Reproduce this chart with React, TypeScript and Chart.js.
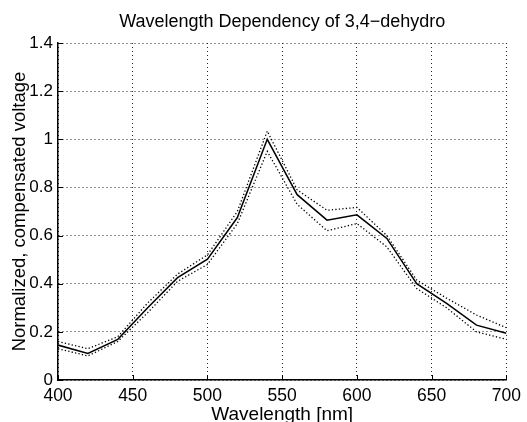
import React, { useEffect, useRef } from "react";
import { Chart, registerables } from "chart.js";

Chart.register(...registerables);

const wavelengths = [400, 420, 440, 460, 480, 500, 520, 540, 560, 580, 600, 620, 640, 660, 680, 700];
const meanVals = [0.145, 0.11, 0.169, 0.3, 0.425, 0.502, 0.675, 1.0, 0.77, 0.664, 0.686, 0.588, 0.4, 0.318, 0.228, 0.194];
const upperVals = [0.16, 0.13, 0.18, 0.32, 0.44, 0.52, 0.7, 1.034, 0.79, 0.705, 0.717, 0.6, 0.415, 0.34, 0.27, 0.217];
const lowerVals = [0.13, 0.1, 0.16, 0.28, 0.41, 0.48, 0.65, 0.95, 0.73, 0.62, 0.65, 0.553, 0.38, 0.3, 0.2, 0.169];

const titleText = "Wavelength Dependency of 3,4\u2212dehydro";
const xTitle = "Wavelength [nm]";
const yTitle = "Normalized, compensated voltage";

const FONT = "'Liberation Sans', Arial, Helvetica, sans-serif";

const toPoints = (ys: number[]) => wavelengths.map((x, i) => ({ x, y: ys[i] }));

const inwardTicks = {
  id: "inwardTicks",
  afterDraw(chart: any) {
    const { ctx, chartArea, scales } = chart;
    ctx.save();
    ctx.strokeStyle = "#000";
    ctx.lineWidth = 1;
    ctx.beginPath();
    scales.x.ticks.forEach((t: any) => {
      const px = Math.round(scales.x.getPixelForValue(t.value)) + 0.5;
      ctx.moveTo(px, chartArea.bottom);
      ctx.lineTo(px, chartArea.bottom - 5);
    });
    scales.y.ticks.forEach((t: any) => {
      const py = Math.round(scales.y.getPixelForValue(t.value)) + 0.5;
      ctx.moveTo(chartArea.left, py);
      ctx.lineTo(chartArea.left + 5, py);
    });
    ctx.stroke();
    ctx.restore();
  },
};

export default function App() {
  const ref = useRef<HTMLCanvasElement | null>(null);

  useEffect(() => {
    document.body.style.margin = "0";
    document.body.style.background = "#fff";
    if (!ref.current) return;
    const chart = new Chart(ref.current, {
      type: "line",
      data: {
        datasets: [
          {
            label: "upper",
            data: toPoints(upperVals),
            borderColor: "#000",
            borderWidth: 1.3,
            borderDash: [1.3, 2.2],
            pointRadius: 0,
            fill: false,
            tension: 0,
          },
          {
            label: "mean",
            data: toPoints(meanVals),
            borderColor: "#000",
            borderWidth: 1.5,
            pointRadius: 0,
            fill: false,
            tension: 0,
          },
          {
            label: "lower",
            data: toPoints(lowerVals),
            borderColor: "#000",
            borderWidth: 1.3,
            borderDash: [1.3, 2.2],
            pointRadius: 0,
            fill: false,
            tension: 0,
          },
        ],
      },
      options: {
        animation: false,
        responsive: false,
        devicePixelRatio: 1,
        layout: { padding: { left: 0, right: 18, top: 0, bottom: 0 } },
        plugins: {
          legend: { display: false },
          tooltip: { enabled: false },
          title: {
            display: true,
            text: titleText,
            fullSize: false,
            color: "#000",
            font: { family: FONT, size: 18, weight: "normal" },
            padding: { top: 11, bottom: 10.4 },
          },
        },
        scales: {
          x: {
            type: "linear",
            min: 400,
            max: 700,
            ticks: {
              stepSize: 50,
              color: "#000",
              font: { family: FONT, size: 17.5 },
              padding: 6,
              maxRotation: 0,
            },
            grid: {
              color: "rgba(0,0,0,0.85)",
              lineWidth: 1,
              drawTicks: false,
            },
            border: { display: true, color: "#000", width: 1.5, dash: [1, 3] },
            title: {
              display: true,
              text: xTitle,
              color: "#000",
              font: { family: FONT, size: 19 },
              padding: { top: 0, bottom: -4 },
            },
            afterFit(scale: any) {
              scale.height = 42;
            },
          },
          y: {
            type: "linear",
            min: 0,
            max: 1.4,
            ticks: {
              stepSize: 0.2,
              color: "#000",
              font: { family: FONT, size: 17 },
              padding: 5,
              callback: (v: any) => String(Number(Number(v).toFixed(1))),
            },
            grid: {
              color: "rgba(0,0,0,0.85)",
              lineWidth: 1,
              drawTicks: false,
            },
            border: { display: true, color: "#000", width: 1.5, dash: [1, 3] },
            title: {
              display: true,
              text: yTitle,
              color: "#000",
              font: { family: FONT, size: 18.5 },
              padding: { top: 8.4, bottom: 0 },
            },
            afterFit(scale: any) {
              scale.width = 58;
            },
          },
        },
      },
      plugins: [inwardTicks],
    });
    return () => chart.destroy();
  }, []);

  return (
    <div style={{ width: 527, height: 422 }}>
      <canvas ref={ref} width={527} height={422} />
    </div>
  );
}
